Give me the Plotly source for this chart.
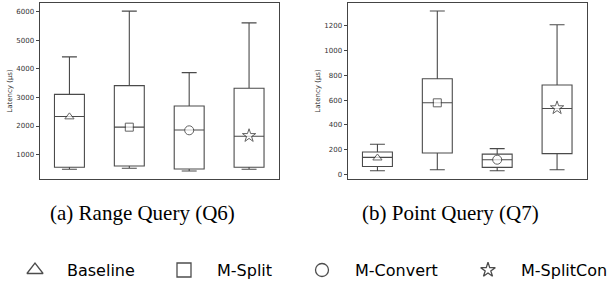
import plotly.graph_objects as go

# ---------------- data ----------------
methods = ["Baseline", "M-Split", "M-Convert", "M-SplitCon"]
positions = [1, 2, 3, 4]
symbols = ["triangle-up", "square", "circle", "star"]

# (a) Range Query (Q6)
q6_lower = [488, 523, 428, 488]
q6_q1 = [558, 604, 498, 558]
q6_median = [2330, 1960, 1860, 1645]
q6_q3 = [3105, 3410, 2700, 3316]
q6_upper = [4415, 6010, 3865, 5600]
q6_mean = [2320, 1960, 1850, 1660]

# (b) Point Query (Q7)
q7_lower = [32, 40, 32, 40]
q7_q1 = [67, 175, 59, 170]
q7_median = [140, 578, 121, 533]
q7_q3 = [183, 772, 166, 721]
q7_upper = [245, 1316, 210, 1205]
q7_mean = [135, 578, 121, 537]

q6_ticks = [1000, 2000, 3000, 4000, 5000, 6000]
q7_ticks = [0, 200, 400, 600, 800, 1000, 1200]

captions = ["(a) Range Query (Q6)", "(b) Point Query (Q7)"]

# ---------------- figure ----------------
W, H = 608, 281
LINE = "#4a4a4a"
fig = go.Figure()

def add_panel(xa, ya, lower, q1, med, q3, upper, mean):
    fig.add_trace(go.Box(
        x=positions, lowerfence=lower, q1=q1, median=med, q3=q3, upperfence=upper,
        orientation="v", width=0.5, whiskerwidth=0.5, fillcolor="rgba(0,0,0,0)",
        line=dict(color=LINE, width=1.1), boxpoints=False,
        xaxis=xa, yaxis=ya, showlegend=False))
    fig.add_trace(go.Scatter(
        x=positions, y=mean, mode="markers", xaxis=xa, yaxis=ya, showlegend=False,
        marker=dict(symbol=symbols, size=[8, 8, 9, 10], color="white",
                    line=dict(color="#222", width=1))))

add_panel("x", "y", q6_lower, q6_q1, q6_median, q6_q3, q6_upper, q6_mean)
add_panel("x2", "y2", q7_lower, q7_q1, q7_median, q7_q3, q7_upper, q7_mean)

# legend markers on an overlay axis spanning the page (pixel units)
leg_x = [35, 184, 322, 488]
leg_text_x = [65, 215, 353, 519]
leg_y = 270
fig.add_trace(go.Scatter(
    x=leg_x, y=[H - leg_y] * 4, mode="markers", xaxis="x3", yaxis="y3", showlegend=False,
    marker=dict(symbol=[s + "-open" for s in symbols], size=[14, 14, 13, 11],
                color="black", line=dict(color="black", width=1.3))))

tick_font = dict(family="DejaVu Sans", size=7, color="#333")

def px_x(a, b):
    return [a / W, b / W]

ydom = [(H - 179) / H, (H - 3) / H]

def xax(dom, anchor):
    return dict(domain=dom, range=[0.5, 4.5], showticklabels=False, ticks="",
                anchor=anchor, showline=True, linecolor="#444", linewidth=1,
                mirror=True, showgrid=False, zeroline=False)

def yax(rng, tv, anchor):
    return dict(domain=ydom, range=rng, tickmode="array", tickvals=tv,
                ticks="outside", ticklen=3, tickcolor="#444", tickfont=tick_font,
                anchor=anchor, showline=True, linecolor="#444", linewidth=1,
                mirror=True, showgrid=False, zeroline=False,
                title=dict(text="Latency (μs)", font=tick_font, standoff=2))

fig.update_layout(
    width=W, height=H, margin=dict(l=0, r=0, t=0, b=0),
    paper_bgcolor="white", plot_bgcolor="rgba(0,0,0,0)",
    xaxis=xax(px_x(39.5, 279), "y"),
    yaxis=yax([150, 6295], q6_ticks, "x"),
    xaxis2=xax(px_x(347.5, 587), "y2"),
    yaxis2=yax([-34, 1380], q7_ticks, "x2"),
    xaxis3=dict(domain=[0, 1], range=[0, W], visible=False, anchor="y3"),
    yaxis3=dict(domain=[0, 1], range=[0, H], visible=False, anchor="x3"),
)

cap_x = [142, 450]
for cx, txt in zip(cap_x, captions):
    fig.add_annotation(x=cx / W, y=(H - 213) / H, xref="paper", yref="paper",
                       text=txt, showarrow=False, xanchor="center", yanchor="middle",
                       font=dict(family="Liberation Serif", size=21, color="black"))

for tx, name in zip(leg_text_x, methods):
    fig.add_annotation(x=tx / W, y=(H - leg_y) / H, xref="paper", yref="paper",
                       text=name, showarrow=False, xanchor="left", yanchor="middle",
                       font=dict(family="DejaVu Sans", size=16, color="black"))

fig.write_html("out.html", config={"displayModeBar": False, "staticPlot": True},
               post_script="document.body.style.margin='0px';document.body.style.overflow='hidden';")
